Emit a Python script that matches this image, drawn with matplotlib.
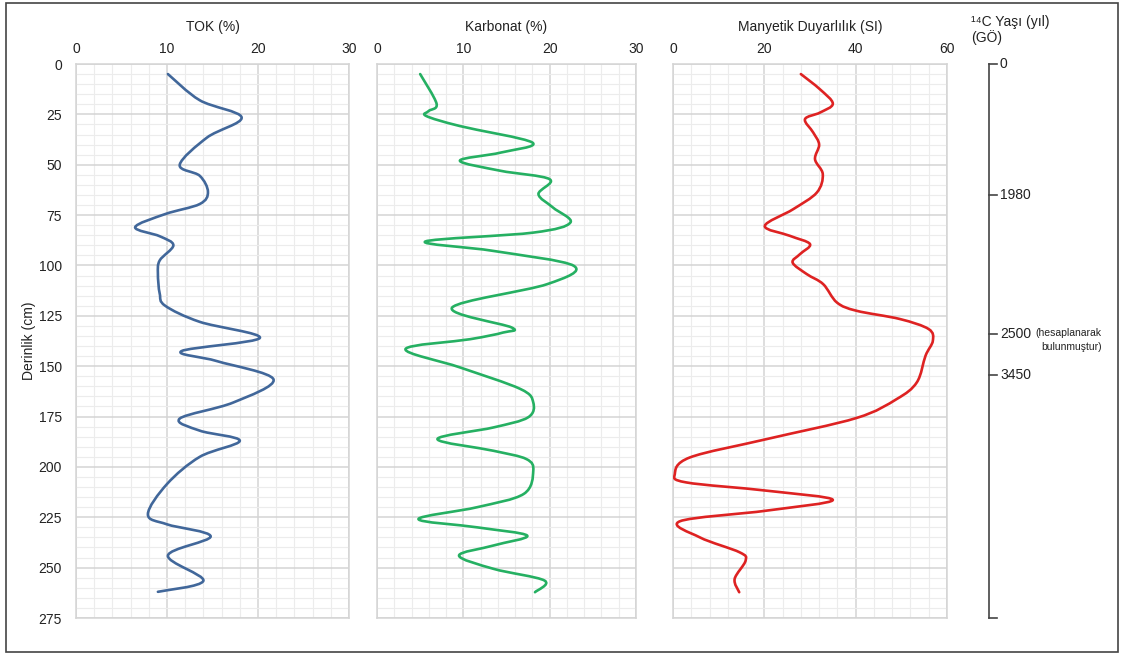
import numpy as np
import matplotlib
matplotlib.use('Agg')
import matplotlib.pyplot as plt
from matplotlib.path import Path
from matplotlib.patches import PathPatch, Rectangle

plt.rcParams['font.family'] = ['Liberation Sans', 'DejaVu Sans']

# TOK (%)
tok_depth = [5, 18, 26.5, 36.5, 50, 55.5, 63.5, 69.5, 74.5, 81, 85.5, 90, 97.5, 104, 114, 120,
             128, 136, 142.5, 147.5, 156.5, 168, 176, 182, 187, 195, 208.5, 223.5, 228.5, 234.5,
             244, 256.5, 262]
tok = [10.1, 13.6, 18.2, 14.4, 11.4, 13.6, 14.5, 13.6, 9.8, 6.5, 9.2, 10.7, 9.2, 9.0, 9.2, 9.8,
       13.6, 20.2, 11.6, 15.5, 21.7, 17.3, 11.4, 13.6, 18.0, 13.6, 10.0, 7.9, 10.0, 14.8,
       10.1, 14.0, 9.0]

# Karbonat (%)
karb_depth = [5, 19.7, 23.3, 25.8, 30.8, 39, 44, 48, 53, 57.2, 64.6, 71.3, 78.7, 83.7, 88.1,
              92.8, 100.2, 109.3, 120.9, 130.8, 133.3, 136.6, 141.5, 150.6, 161.3, 168,
              175.4, 180.4, 186.2, 192, 196.1, 202, 213.4, 220, 225.9, 230, 234.1, 239, 244,
              250.6, 256.4, 262.2]
karb = [5.0, 6.9, 6.0, 5.7, 9.6, 18.0, 14.3, 9.6, 14.3, 20.0, 18.7, 20.4, 22.4, 18.1, 5.6,
        13.5, 22.8, 19.7, 8.7, 15.6, 14.6, 10.8, 3.3, 9.6, 16.6, 18.1,
        17.5, 13.5, 7.0, 13.5, 17.3, 18.1, 17.0, 11.6, 4.8, 11.6, 17.4, 13.5, 9.5,
        13.5, 19.4, 18.3]

# Manyetik Duyarlilik (SI)
md_depth = [5, 12.6, 19.7, 24.1, 27.4, 34, 40, 47.3, 54.7, 63.8, 72.1, 80.4, 85.3, 89.4, 94.4,
            98.6, 104.3, 109.3, 118.4, 122.5, 126.6, 131.6, 137.4, 144.8, 158, 166.3, 175.7,
            186.2, 195.3, 203.5, 207.7, 211.8, 216.4, 221.7, 227, 235, 242.4, 246.5, 255.6, 262.2]
md = [28.0, 32.2, 35.0, 32.2, 28.9, 30.7, 32.0, 31.1, 32.8, 31.5, 26.3, 20.1, 25.6, 30.0, 27.8,
      26.2, 29.3, 32.9, 35.9, 40.2, 49.7, 56.0, 56.9, 55.3, 53.4, 49.0, 40.2,
      20.5, 3.7, 0.4, 2.9, 20.5, 35.0, 20.5, 1.5, 5.9, 14.6, 15.9, 13.5, 14.5]

# 14C ages
age_depth = [0, 65, 134, 154.5]
age_labels = ['0', '1980', '2500', '3450']

W, H = 1122, 657
FS = 10
fig = plt.figure(figsize=(W / 100, H / 100), dpi=100)


def smooth_line(ax, x, y, color):
    # smoothed line (Catmull-Rom as bezier) like the spreadsheet's smooth line
    p = np.column_stack([x, y]).astype(float)
    verts = [p[0]]
    codes = [Path.MOVETO]
    n = len(p)
    for i in range(n - 1):
        p0 = p[i - 1] if i > 0 else p[i]
        p3 = p[i + 2] if i + 2 < n else p[i + 1]
        c1 = p[i] + (p[i + 1] - p0) / 6
        c2 = p[i + 1] - (p3 - p[i]) / 6
        verts += [c1, c2, p[i + 1]]
        codes += [Path.CURVE4] * 3
    patch = PathPatch(Path(verts, codes), fill=False, edgecolor=color, lw=1.9,
                      capstyle='round', joinstyle='round', zorder=3)
    ax.add_patch(patch)


def panel(left, right, xmax, major, minor, title):
    ax = fig.add_axes([left / W, 1 - 618 / H, (right - left) / W, (618 - 64) / H])
    ax.set_xlim(0, xmax)
    ax.set_ylim(275, 0)
    ax.set_xticks(np.arange(0, xmax + 1, major))
    ax.set_xticks(np.arange(0, xmax + 1, minor), minor=True)
    ax.set_yticks(np.arange(0, 276, 25))
    ax.set_yticks(np.arange(0, 276, 5), minor=True)
    ax.grid(which='major', color='#d4d4d4', lw=1.1)
    ax.grid(which='minor', color='#ececec', lw=0.8)
    ax.set_axisbelow(True)
    ax.xaxis.tick_top()
    ax.tick_params(which='both', length=0, labelsize=FS, colors='#222222')
    ax.tick_params(axis='x', pad=6)
    ax.tick_params(axis='y', pad=10)
    for s in ax.spines.values():
        s.set_color('#d4d4d4')
        s.set_linewidth(1.1)
    ax.set_title(title, fontsize=FS, pad=24, color='#222222')
    return ax


ax1 = panel(76, 349, 30, 10, 2, 'TOK (%)')
smooth_line(ax1, tok, tok_depth, '#41679a')
ax1.set_ylabel('Derinlik (cm)', fontsize=FS, labelpad=2, color='#222222')

ax2 = panel(377, 636, 30, 10, 2, 'Karbonat (%)')
ax2.tick_params(axis='y', labelleft=False)
smooth_line(ax2, karb, karb_depth, '#25b062')

ax3 = panel(673, 947, 60, 20, 4, 'Manyetik Duyarlılık (SI)')
ax3.tick_params(axis='y', labelleft=False)
smooth_line(ax3, md, md_depth, '#de2222')

# age axis (x units = pixels right of the line)
ax4 = fig.add_axes([989 / W, 1 - 618 / H, 120 / W, (618 - 64) / H])
ax4.set_xlim(0, 120)
ax4.set_ylim(275, 0)
ax4.axis('off')
ax4.plot([0, 0], [0, 275], color='#444444', lw=1.2, clip_on=False)
for d, lab in zip(age_depth + [275], age_labels + ['']):
    ax4.plot([0, 8], [d, d], color='#444444', lw=1.2, clip_on=False)
    if lab:
        ax4.text(11, d, lab, fontsize=FS, va='center', ha='left', color='#222222')
ax4.text(46, age_depth[2] - 0.5, '(hesaplanarak', fontsize=7.5, va='center', ha='left', color='#222222')
ax4.text(113, age_depth[2] + 6.5, 'bulunmuştur)', fontsize=7.5, va='center', ha='right',
         color='#222222', clip_on=False)

fig.text(971 / W, 1 - 22 / H, '¹⁴C Yaşı (yıl)', fontsize=FS, ha='left', va='center', color='#222222')
fig.text(971 / W, 1 - 38 / H, '(GÖ)', fontsize=FS, ha='left', va='center', color='#222222')

# outer frame
fig.patches.append(Rectangle((6 / W, 1 - 652 / H), (1118 - 6) / W, (652 - 3) / H,
                             transform=fig.transFigure, fill=False, edgecolor='#444444', lw=1.2))

fig.savefig('out.png', dpi=100)
